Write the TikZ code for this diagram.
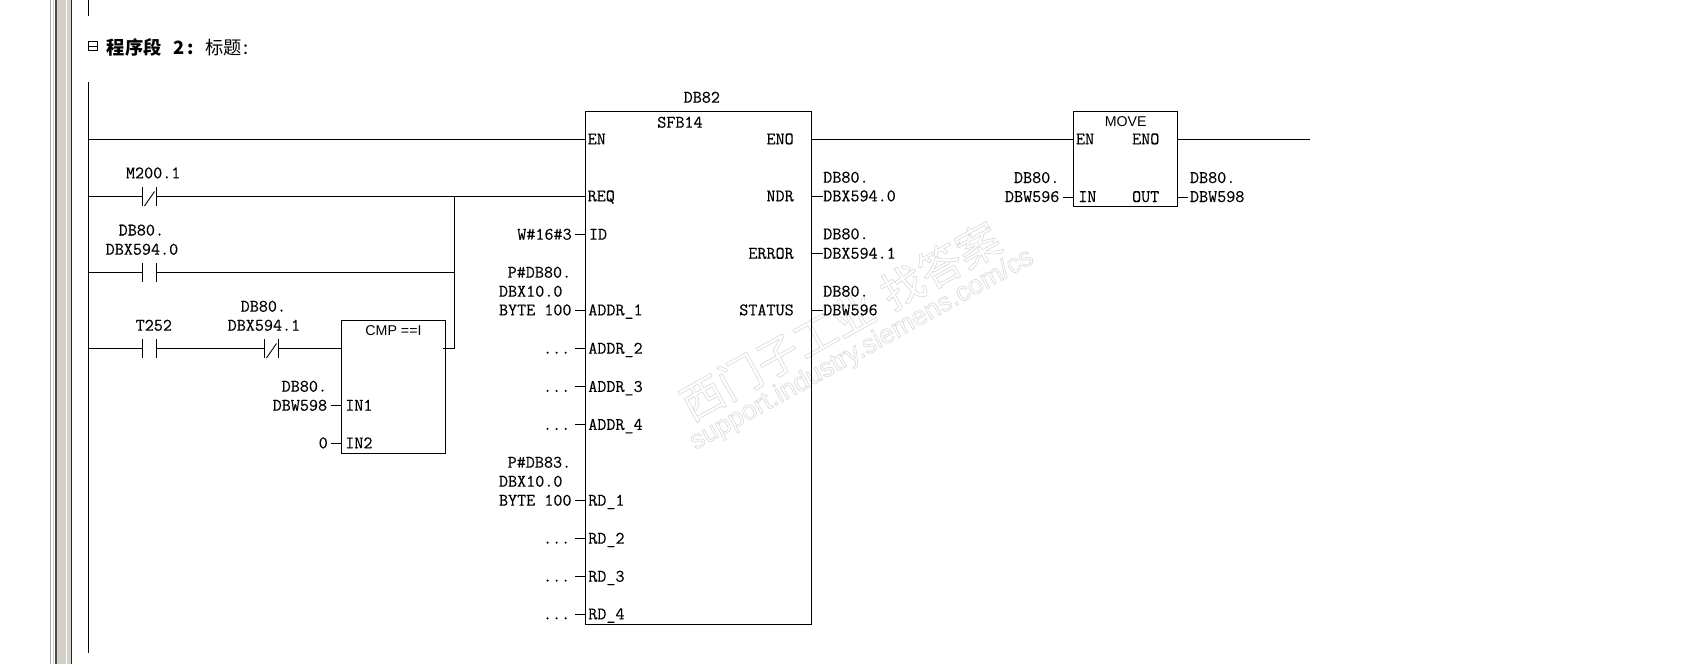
\documentclass[tikz,border=0pt]{standalone}
\usepackage{fontspec}
\setmonofont[FakeBold=0.25]{Latin Modern Mono}
\newfontfamily\cjk{Noto Sans CJK SC}
\newfontfamily\wmsans{Liberation Sans}
\usetikzlibrary{calc}
\definecolor{beigeframe}{HTML}{D4D0C8}
\tikzset{
  x=1pt,y=-1pt,
  thinwire/.style={line width=1pt,black},
  box/.style={draw=black,line width=1pt,rectangle,inner sep=0pt,outer sep=0pt},
  contact/.style={rectangle,inner sep=0pt,outer sep=0pt,minimum width=14pt,minimum height=19pt},
  lbl/.style={anchor=base west,yshift=-5pt,inner sep=0pt,outer sep=0pt,font=\fontsize{17.6}{19}\selectfont\ttfamily},
  rlbl/.style={anchor=base east,yshift=-5pt,inner sep=0pt,outer sep=0pt,font=\fontsize{17.6}{19}\selectfont\ttfamily},
  sanslbl/.style={anchor=center,inner sep=0pt,outer sep=0pt,font=\fontsize{14.2}{17}\selectfont\wmsans},
  wm/.style={rotate=29,anchor=center,inner sep=0pt},
}
\newcommand{\NOc}[2]{\node[contact] (#1) at (#2) {};
  \draw[thinwire] (#1.north west)--(#1.south west) (#1.north east)--(#1.south east);}
\newcommand{\NCc}[2]{\NOc{#1}{#2}
  \draw[line width=0.9pt] ($(#1.south west)+(2,0)$)--($(#1.north east)+(-2,4.5)$);}
\newcommand{\outlinetext}[1]{\special{pdf:code q 1 Tr 0.55 w 0.84 0.84 0.84 RG}#1\special{pdf:code Q}}
\begin{document}
\begin{tikzpicture}
\useasboundingbox (0,0) rectangle (1704,664);
\fill[white] (0,0) rectangle (1704,664);
% window frame bars
\fill[black!35] (50,0) rectangle (51,664);
\fill[beigeframe] (52.5,0) rectangle (54,664);
\fill[black!70] (55,0) rectangle (57,664);
\fill[beigeframe] (57,0) rectangle (66,664);
\fill[beigeframe] (67,0) rectangle (71,664);
\fill[black!85] (71,0) rectangle (72,664);
% watermark
\node[wm,font=\fontsize{43}{43}\selectfont\cjk] (wmA) at (840,321) {\outlinetext{西门子工业\hspace{14pt}找答案}};
\node[wm,font=\fontsize{26.8}{27}\selectfont\wmsans] (wmB) at (862,350) {\outlinetext{support.industry.siemens.com/cs}};
% rails
\coordinate (railTopA) at (88.5,0); \coordinate (railTopB) at (88.5,16);
\draw[thinwire] (railTopA)--(railTopB);
\coordinate (railA) at (88.5,82); \coordinate (railB) at (88.5,653);
\draw[thinwire] (railA)--(railB);
% heading
\node[draw=black,line width=0.9pt,minimum width=9.5pt,minimum height=9.5pt,inner sep=0pt] (fold) at (93,46) {};
\draw[line width=0.9pt] (fold.west)--(fold.east);
\node[anchor=west,inner sep=0pt,font=\fontsize{18.3}{19}\selectfont\cjk] (title) at (106.5,47)
  {{\bfseries 程序段\hspace{11.5pt}2\hspace{3pt}:}\hspace{12pt}标题\hspace{1pt}:};
% boxes
\node[box,minimum width=226pt,minimum height=513pt] (sfb) at (698.5,368) {};
\node[box,minimum width=104pt,minimum height=95pt] (mv) at (1125.5,159) {};
\node[box,minimum width=104pt,minimum height=133pt] (cmp) at (393.5,387) {};
% contacts
\NCc{cM}{149.5,196.5}
\NOc{cDB}{149.5,272.5}
\NOc{cT}{149.5,348.5}
\NCc{cE}{271.5,348.5}
% power rail connections
\coordinate (s1) at (87.5,139.5);
\coordinate (s2) at (87.5,196.5);
\coordinate (s3) at (87.5,272.5);
\coordinate (s4) at (87.5,348.5);
\coordinate (j1) at (454.5,196.5);
\coordinate (j2) at (455,272.5);
\coordinate (j3) at (455,348.5);
\draw[thinwire] (s1)--(sfb.west |- s1);
\draw[thinwire] (s2)--(cM.west) (cM.east)--(sfb.west |- s2);
\draw[thinwire] (s3)--(cDB.west) (cDB.east)--(j2);
\draw[thinwire] (s4)--(cT.west) (cT.east)--(cE.west) (cE.east)--(cmp.west |- s4);
\draw[thinwire] (j1)--(j1 |- j3);
\coordinate (cmpo) at (443.3,348.5);
\draw[thinwire] (cmpo)--(j3);
\draw[thinwire] (sfb.east |- s1)--(mv.west |- s1);
\coordinate (endL) at (1310,139.5);
\draw[thinwire] (mv.east |- s1)--(endL);
% contact labels
\node[lbl] (tM) at (126,173.3) {M200.1};
\node[lbl] (tDa) at (118.7,230.5) {DB80.};
\node[lbl] (tDb) at (105.7,249.7) {DBX594.0};
\node[lbl] (tT) at (135.7,325.7) {T252};
\node[lbl] (tEa) at (240.7,306.7) {DB80.};
\node[lbl] (tEb) at (227.7,325.7) {DBX594.1};
% CMP
\node[sanslbl] (tCmp) at (393.5,330.7) {CMP ==I};
\node[lbl] (in1) at (345.3,405.7) {IN1};
\node[lbl] (in2) at (345.3,443.3) {IN2};
\node[lbl] (v1a) at (281.7,386.7) {DB80.};
\node[lbl] (v1b) at (272.7,405.7) {DBW598};
\node[lbl] (v2) at (318.7,443.3) {0};
\coordinate (st1) at (331,405.5); \coordinate (st2) at (331,443.5);
\draw[thinwire] (st1)--(cmp.west |- st1);
\draw[thinwire] (st2)--(cmp.west |- st2);
% SFB texts
\node[lbl] (tDB82) at (683.7,97.7) {DB82};
\node[lbl] (tSFB) at (657.3,122.7) {SFB14};
\node[lbl] (pEN) at (587.7,139.3) {EN};
\node[lbl] (pREQ) at (587.7,196.3) {REQ};
\node[lbl] (pID) at (589,234.7) {ID};
\node[lbl] (pA1) at (588.3,310.3) {ADDR\_1};
\node[lbl] (pA2) at (588.3,348.7) {ADDR\_2};
\node[lbl] (pA3) at (588.3,386.9) {ADDR\_3};
\node[lbl] (pA4) at (588.3,424.9) {ADDR\_4};
\node[lbl] (pR1) at (588.3,500.7) {RD\_1};
\node[lbl] (pR2) at (588.3,538.7) {RD\_2};
\node[lbl] (pR3) at (588.3,576.7) {RD\_3};
\node[lbl] (pR4) at (588.3,614.3) {RD\_4};
\node[rlbl] (pENO) at (793.7,139.3) {ENO};
\node[rlbl] (pNDR) at (793.7,196.3) {NDR};
\node[rlbl] (pERR) at (793.7,253.7) {ERROR};
\node[rlbl] (pST) at (793.7,310.3) {STATUS};
% SFB inputs
\node[lbl] (iID) at (517.3,234.7) {W\#16\#3};
\node[lbl] (iA1a) at (507.7,272.7) {P\#DB80.};
\node[lbl] (iA1b) at (499,291.7) {DBX10.0};
\node[lbl] (iA1c) at (499,310.3) {BYTE 100};
\node[lbl] (iA2) at (543,348.7) {...};
\node[lbl] (iA3) at (543,386.9) {...};
\node[lbl] (iA4) at (543,424.9) {...};
\node[lbl] (iR1a) at (507.7,462.7) {P\#DB83.};
\node[lbl] (iR1b) at (499,481.7) {DBX10.0};
\node[lbl] (iR1c) at (499,500.7) {BYTE 100};
\node[lbl] (iR2) at (543,538.7) {...};
\node[lbl] (iR3) at (543,576.7) {...};
\node[lbl] (iR4) at (543,614.3) {...};
\foreach \n/\y in {a/234.5,b/310.5,c/348.5,d/386.5,e/424.5,f/500.5,g/538.5,h/576.5,i/614.5}{
  \coordinate (q\n) at (575,\y);
  \draw[thinwire] (q\n)--(sfb.west |- q\n);
}
% SFB outputs
\node[lbl] (oNa) at (823.3,177.7) {DB80.};
\node[lbl] (oNb) at (823.3,196.3) {DBX594.0};
\node[lbl] (oEa) at (823.3,234.3) {DB80.};
\node[lbl] (oEb) at (823.3,253.7) {DBX594.1};
\node[lbl] (oSa) at (823.3,291.7) {DB80.};
\node[lbl] (oSb) at (823.3,310.3) {DBW596};
\foreach \n/\y in {n/196.5,r/253.5,t/310.5}{
  \coordinate (o\n) at (823.3,\y);
  \draw[thinwire] (sfb.east |- o\n)--(o\n);
}
% MOVE
\node[sanslbl] (tMv) at (1125.7,121.7) {MOVE};
\node[lbl] (mEN) at (1076,139.3) {EN};
\node[rlbl] (mENO) at (1159.3,139.3) {ENO};
\node[lbl] (mIN) at (1078.3,197) {IN};
\node[rlbl] (mOUT) at (1159.3,197) {OUT};
\node[lbl] (miA) at (1014,178) {DB80.};
\node[lbl] (miB) at (1005,197) {DBW596};
\node[lbl] (moA) at (1190,178) {DB80.};
\node[lbl] (moB) at (1190,197) {DBW598};
\coordinate (mst) at (1063.3,197.5);
\draw[thinwire] (mst)--(mv.west |- mst);
\coordinate (mot) at (1188.3,197.5);
\draw[thinwire] (mv.east |- mot)--(mot);
\end{tikzpicture}
\end{document}
